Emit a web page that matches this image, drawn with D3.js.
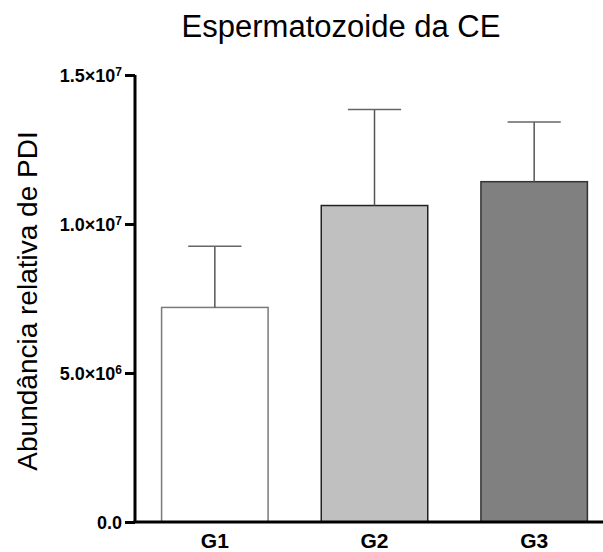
<!DOCTYPE html>
<html>
<head>
<meta charset="utf-8">
<script src="https://d3js.org/d3.v7.min.js"></script>
<style>
	body { margin: 0; background: #fff; }
	svg { display: block; font-family: Arial, "Liberation Sans", sans-serif; }
	.axis path, .axis line { stroke: #000; stroke-width: 3; }
</style>
</head>
<body>
<div id="container"></div>
<script>

// data
var groups = ["G1", "G2", "G3"];
var means = [7.2e6, 10.62e6, 11.42e6];
var sems = [2.05e6, 3.22e6, 2.0e6];
var tickValues = [0, 5e6, 1e7, 1.5e7];
var tickLabels = ["0.0", "5.0×10^6", "1.0×10^7", "1.5×10^7"];

var fills = ["#ffffff", "#c0c0c0", "#808080"];
var outlines = ["#7a7a7a", "#222222", "#333333"];

var W = 603, H = 552;
var svg = d3.select("#container").append("svg")
	.attr("width", W).attr("height", H);

var y = d3.scaleLinear().domain([0, 1.5e7]).range([522, 75]);
var x = d3.scaleBand().domain(groups).range([135, 614])
	.paddingInner(0.333).paddingOuter(0.1665);

// bars
svg.selectAll("rect.bar")
	.data(means)
	.enter().append("rect")
	.attr("class", "bar")
	.attr("x", function(d, i){ return x(groups[i]); })
	.attr("y", function(d){ return y(d); })
	.attr("width", x.bandwidth())
	.attr("height", function(d){ return y(0) - y(d); })
	.style("fill", function(d, i){ return fills[i]; })
	.style("stroke", function(d, i){ return outlines[i]; })
	.style("stroke-width", 1.5);

// error bars (upper only)
var err = svg.selectAll("g.err")
	.data(means)
	.enter().append("g")
	.attr("class", "err");

err.append("line")
	.attr("x1", function(d, i){ return x(groups[i]) + x.bandwidth()/2; })
	.attr("x2", function(d, i){ return x(groups[i]) + x.bandwidth()/2; })
	.attr("y1", function(d){ return y(d); })
	.attr("y2", function(d, i){ return y(d + sems[i]); })
	.style("stroke", "#555").style("stroke-width", 1.5);

err.append("line")
	.attr("x1", function(d, i){ return x(groups[i]) + x.bandwidth()/4; })
	.attr("x2", function(d, i){ return x(groups[i]) + x.bandwidth()*3/4; })
	.attr("y1", function(d, i){ return y(d + sems[i]); })
	.attr("y2", function(d, i){ return y(d + sems[i]); })
	.style("stroke", "#666").style("stroke-width", 1.5);

// y axis
var yAxis = svg.append("g")
	.attr("class", "axis")
	.attr("transform", "translate(135,0)")
	.call(d3.axisLeft(y).tickValues(tickValues).tickSize(10).tickSizeOuter(0).tickPadding(3).tickFormat(""));

yAxis.selectAll(".tick text").each(function(d, i){
	var parts = tickLabels[i].split("^");
	var t = d3.select(this).attr("dy", "0.36em")
		.style("font-size", "18px").style("font-weight", "bold");
	t.append("tspan").text(parts[0]);
	if (parts[1]) {
		t.append("tspan").attr("dy", "-0.5em").style("font-size", "12px").text(parts[1]);
	}
});
yAxis.select(".domain").attr("d", "M0," + y(1.5e7) + "V" + y(0));

// x axis line
svg.append("line")
	.attr("x1", 133.5).attr("x2", W)
	.attr("y1", y(0)).attr("y2", y(0))
	.style("stroke", "#000").style("stroke-width", 3);

svg.selectAll("text.xl")
	.data(groups)
	.enter().append("text")
	.attr("class", "xl")
	.attr("x", function(d){ return x(d) + x.bandwidth()/2; })
	.attr("y", 548)
	.attr("text-anchor", "middle")
	.style("font-weight", "bold")
	.style("font-size", "21px")
	.text(function(d){ return d; });

// titles
svg.append("text")
	.attr("x", 341).attr("y", 37)
	.attr("text-anchor", "middle")
	.style("font-size", "31px")
	.text("Espermatozoide da CE");

svg.append("text")
	.attr("transform", "translate(37,301) rotate(-90)")
	.attr("text-anchor", "middle")
	.style("font-size", "28px")
	.text("Abundância relativa de PDI");

</script>
</body>
</html>
